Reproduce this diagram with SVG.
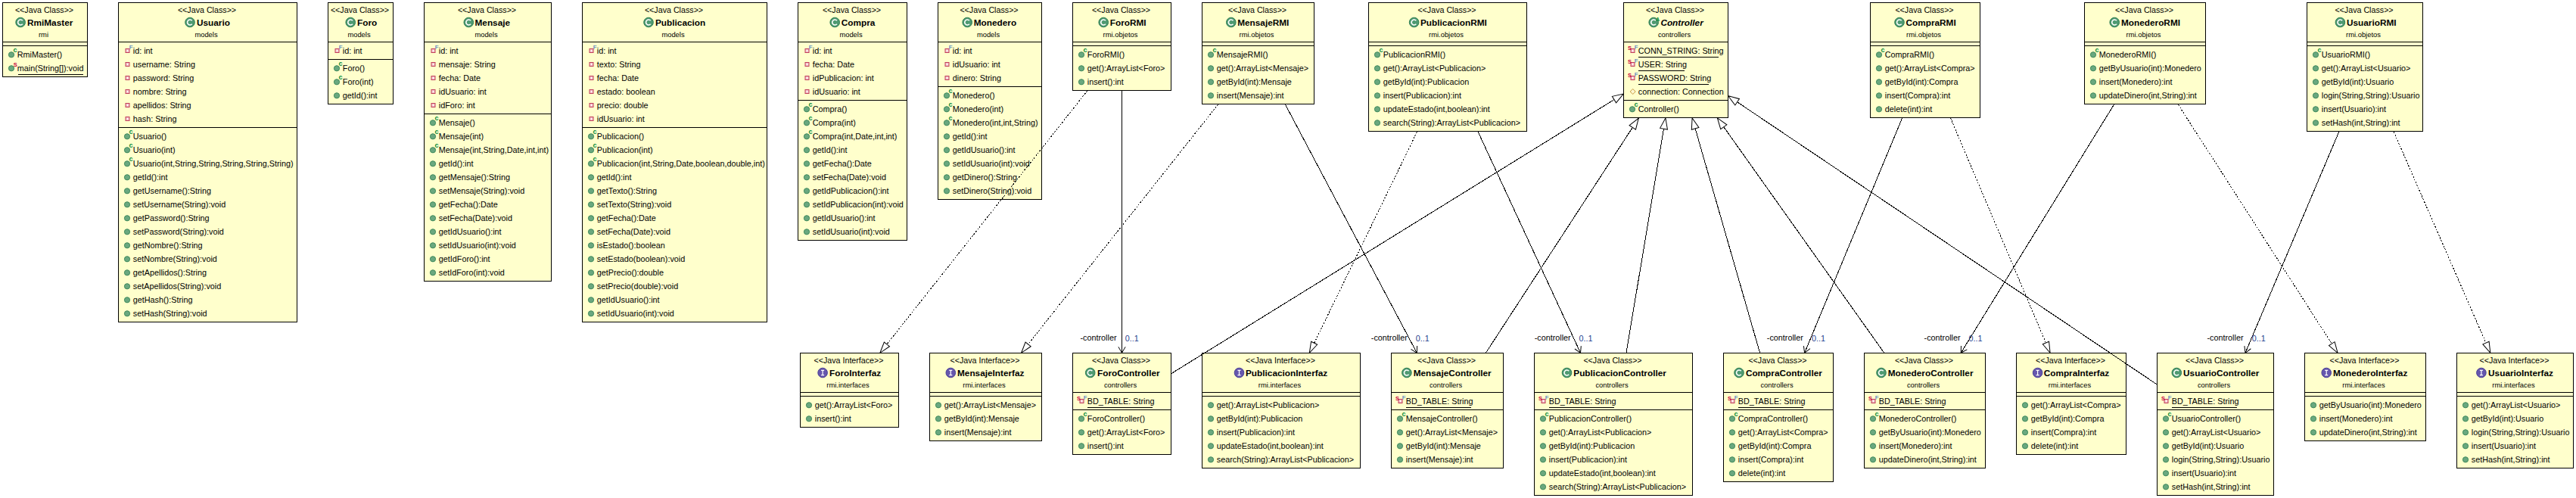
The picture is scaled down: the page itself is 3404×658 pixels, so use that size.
<svg xmlns="http://www.w3.org/2000/svg" width="3404" height="658" viewBox="0 0 3404 658">
<style>
text{font-family:"Liberation Sans",Arial,sans-serif;fill:#000}
.b{fill:#ffffcc;stroke:#000;stroke-width:1}
.s{stroke:#000;stroke-width:1;fill:none;shape-rendering:crispEdges}
.st{font-size:10.7px;text-anchor:middle}
.n{font-size:11.8px;font-weight:bold}
.i{font-style:italic}
.p{font-size:9.4px;text-anchor:middle}
.t{font-size:10.8px}
.cn{stroke:#000;stroke-width:1;fill:none;shape-rendering:crispEdges}
.d{stroke-dasharray:2 2}
.lb{font-size:10.8px}
.mu{font-size:10.8px;fill:#1f3f8f}
.mc{font-size:9px;font-weight:bold;fill:#0a8a3c}
.ms{font-size:7.5px;font-weight:bold;fill:#c8003c}
.mf{font-size:8px;fill:#2a5cc0}
.mh{fill:#fff;stroke:#000;stroke-width:1}
.mo{fill:none;stroke:#000;stroke-width:1}
</style>
<defs>
<marker id="tri" markerUnits="userSpaceOnUse" markerWidth="16" markerHeight="12" refX="15.5" refY="6" orient="auto"><path class="mh" d="M1,1 L15.5,6 L1,11 Z"/></marker>
<marker id="tri2" markerUnits="userSpaceOnUse" markerWidth="16" markerHeight="12" refX="15.5" refY="6" orient="auto"><path class="mh" d="M1,1.5 L15.5,6 L1,10.5 Z"/></marker>
<marker id="opn" markerUnits="userSpaceOnUse" markerWidth="10" markerHeight="12" refX="9" refY="6" orient="auto"><path class="mo" d="M1,1.4 L9,6 L1,10.6"/></marker>
<g id="ci"><circle r="6.3" fill="#4f9a72" stroke="#2e7d52"/><path d="M2.7,-2.3A3.5,3.5 0 1 0 2.7,2.3" fill="none" stroke="#fff" stroke-width="1.6"/></g>
<g id="ii"><circle r="6.3" fill="#6657ad" stroke="#4a3f96"/><path d="M-2,-3.2H2M0,-3.2V3.2M-2,3.2H2" fill="none" stroke="#fff" stroke-width="1.2"/></g>
<g id="m"><circle cx="11.5" r="3.6" fill="#6aa87f" stroke="#3f8a5c"/></g>
<g id="mk"><use href="#m"/><text class="mc" x="14" y="-3">c</text></g>
<g id="mt"><use href="#m"/><text class="ms" x="14.2" y="-2">S</text></g>
<g id="a"><rect x="9.5" y="-2.5" width="5" height="5" fill="#f4c0c8" stroke="#c0405a"/><circle cx="12" r="0.9" fill="#fff"/></g>
<g id="af"><use href="#a"/><text class="mf" x="14.3" y="-2">F</text></g>
<g id="asf"><use href="#a"/><text class="ms" x="5.5" y="-1.5">S</text><text class="mf" x="14.3" y="-2">F</text></g>
<path id="dm" d="M12.2,-3.5L15.7,0L12.2,3.5L8.7,0Z" fill="#fff8d0" stroke="#c89a40"/>
</defs>
<g id="nodes">
<g id="RmiMaster" transform="translate(3.5,3.5)"><rect class="b" width="112" height="98"/><path class="s" d="M0,52H112M0,57H112"/>
<text class="st" x="55" y="13.7">&lt;&lt;Java Class&gt;&gt;</text><use href="#ci" x="23.6" y="26"/><text class="n" x="32.5" y="30.4">RmiMaster</text><text class="p" x="54" y="45.8">rmi</text>
<use href="#mk" y="68.8"/><text class="t" x="19.3" y="72.6">RmiMaster()</text>
<use href="#mt" y="86.8"/><text class="t" x="19.3" y="90.6">main(String[]):void</text><path class="s" d="M20,95H106"/></g>

<g id="Usuario" transform="translate(156.5,3.5)"><rect class="b" width="236" height="422"/><path class="s" d="M0,52H236M0,165H236"/>
<text class="st" x="117" y="13.7">&lt;&lt;Java Class&gt;&gt;</text><use href="#ci" x="94.5" y="26"/><text class="n" x="103.5" y="30.4">Usuario</text><text class="p" x="116" y="45.8">models</text>
<use href="#af" y="63.5"/><text class="t" x="19.3" y="67.3">id: int</text>
<use href="#a" y="81.5"/><text class="t" x="19.3" y="85.3">username: String</text>
<use href="#a" y="99.5"/><text class="t" x="19.3" y="103.3">password: String</text>
<use href="#a" y="117.5"/><text class="t" x="19.3" y="121.3">nombre: String</text>
<use href="#a" y="135.5"/><text class="t" x="19.3" y="139.3">apellidos: String</text>
<use href="#a" y="153.5"/><text class="t" x="19.3" y="157.3">hash: String</text>
<use href="#mk" y="176.8"/><text class="t" x="19.3" y="180.6">Usuario()</text>
<use href="#mk" y="194.8"/><text class="t" x="19.3" y="198.6">Usuario(int)</text>
<use href="#mk" y="212.8"/><text class="t" x="19.3" y="216.6">Usuario(int,String,String,String,String,String)</text>
<use href="#m" y="230.8"/><text class="t" x="19.3" y="234.6">getId():int</text>
<use href="#m" y="248.8"/><text class="t" x="19.3" y="252.6">getUsername():String</text>
<use href="#m" y="266.8"/><text class="t" x="19.3" y="270.6">setUsername(String):void</text>
<use href="#m" y="284.8"/><text class="t" x="19.3" y="288.6">getPassword():String</text>
<use href="#m" y="302.8"/><text class="t" x="19.3" y="306.6">setPassword(String):void</text>
<use href="#m" y="320.8"/><text class="t" x="19.3" y="324.6">getNombre():String</text>
<use href="#m" y="338.8"/><text class="t" x="19.3" y="342.6">setNombre(String):void</text>
<use href="#m" y="356.8"/><text class="t" x="19.3" y="360.6">getApellidos():String</text>
<use href="#m" y="374.8"/><text class="t" x="19.3" y="378.6">setApellidos(String):void</text>
<use href="#m" y="392.8"/><text class="t" x="19.3" y="396.6">getHash():String</text>
<use href="#m" y="410.8"/><text class="t" x="19.3" y="414.6">setHash(String):void</text></g>

<g id="Foro" transform="translate(433.5,3.5)"><rect class="b" width="86" height="134"/><path class="s" d="M0,52H86M0,75H86"/>
<text class="st" x="42" y="13.7">&lt;&lt;Java Class&gt;&gt;</text><use href="#ci" x="29.7" y="26"/><text class="n" x="38.5" y="30.4">Foro</text><text class="p" x="41" y="45.8">models</text>
<use href="#af" y="63.5"/><text class="t" x="19.3" y="67.3">id: int</text>
<use href="#mk" y="86.8"/><text class="t" x="19.3" y="90.6">Foro()</text>
<use href="#mk" y="104.8"/><text class="t" x="19.3" y="108.6">Foro(int)</text>
<use href="#m" y="122.8"/><text class="t" x="19.3" y="126.6">getId():int</text></g>

<g id="Mensaje" transform="translate(560.5,3.5)"><rect class="b" width="168" height="368"/><path class="s" d="M0,52H168M0,147H168"/>
<text class="st" x="83" y="13.7">&lt;&lt;Java Class&gt;&gt;</text><use href="#ci" x="58.8" y="26"/><text class="n" x="67" y="30.4">Mensaje</text><text class="p" x="82" y="45.8">models</text>
<use href="#af" y="63.5"/><text class="t" x="19.3" y="67.3">id: int</text>
<use href="#a" y="81.5"/><text class="t" x="19.3" y="85.3">mensaje: String</text>
<use href="#a" y="99.5"/><text class="t" x="19.3" y="103.3">fecha: Date</text>
<use href="#a" y="117.5"/><text class="t" x="19.3" y="121.3">idUsuario: int</text>
<use href="#a" y="135.5"/><text class="t" x="19.3" y="139.3">idForo: int</text>
<use href="#mk" y="158.8"/><text class="t" x="19.3" y="162.6">Mensaje()</text>
<use href="#mk" y="176.8"/><text class="t" x="19.3" y="180.6">Mensaje(int)</text>
<use href="#mk" y="194.8"/><text class="t" x="19.3" y="198.6">Mensaje(int,String,Date,int,int)</text>
<use href="#m" y="212.8"/><text class="t" x="19.3" y="216.6">getId():int</text>
<use href="#m" y="230.8"/><text class="t" x="19.3" y="234.6">getMensaje():String</text>
<use href="#m" y="248.8"/><text class="t" x="19.3" y="252.6">setMensaje(String):void</text>
<use href="#m" y="266.8"/><text class="t" x="19.3" y="270.6">getFecha():Date</text>
<use href="#m" y="284.8"/><text class="t" x="19.3" y="288.6">setFecha(Date):void</text>
<use href="#m" y="302.8"/><text class="t" x="19.3" y="306.6">getIdUsuario():int</text>
<use href="#m" y="320.8"/><text class="t" x="19.3" y="324.6">setIdUsuario(int):void</text>
<use href="#m" y="338.8"/><text class="t" x="19.3" y="342.6">getIdForo():int</text>
<use href="#m" y="356.8"/><text class="t" x="19.3" y="360.6">setIdForo(int):void</text></g>

<g id="Publicacion" transform="translate(769.5,3.5)"><rect class="b" width="244" height="422"/><path class="s" d="M0,52H244M0,165H244"/>
<text class="st" x="121" y="13.7">&lt;&lt;Java Class&gt;&gt;</text><use href="#ci" x="87.5" y="26"/><text class="n" x="96.5" y="30.4">Publicacion</text><text class="p" x="120" y="45.8">models</text>
<use href="#af" y="63.5"/><text class="t" x="19.3" y="67.3">id: int</text>
<use href="#a" y="81.5"/><text class="t" x="19.3" y="85.3">texto: String</text>
<use href="#a" y="99.5"/><text class="t" x="19.3" y="103.3">fecha: Date</text>
<use href="#a" y="117.5"/><text class="t" x="19.3" y="121.3">estado: boolean</text>
<use href="#a" y="135.5"/><text class="t" x="19.3" y="139.3">precio: double</text>
<use href="#a" y="153.5"/><text class="t" x="19.3" y="157.3">idUsuario: int</text>
<use href="#mk" y="176.8"/><text class="t" x="19.3" y="180.6">Publicacion()</text>
<use href="#mk" y="194.8"/><text class="t" x="19.3" y="198.6">Publicacion(int)</text>
<use href="#mk" y="212.8"/><text class="t" x="19.3" y="216.6">Publicacion(int,String,Date,boolean,double,int)</text>
<use href="#m" y="230.8"/><text class="t" x="19.3" y="234.6">getId():int</text>
<use href="#m" y="248.8"/><text class="t" x="19.3" y="252.6">getTexto():String</text>
<use href="#m" y="266.8"/><text class="t" x="19.3" y="270.6">setTexto(String):void</text>
<use href="#m" y="284.8"/><text class="t" x="19.3" y="288.6">getFecha():Date</text>
<use href="#m" y="302.8"/><text class="t" x="19.3" y="306.6">setFecha(Date):void</text>
<use href="#m" y="320.8"/><text class="t" x="19.3" y="324.6">isEstado():boolean</text>
<use href="#m" y="338.8"/><text class="t" x="19.3" y="342.6">setEstado(boolean):void</text>
<use href="#m" y="356.8"/><text class="t" x="19.3" y="360.6">getPrecio():double</text>
<use href="#m" y="374.8"/><text class="t" x="19.3" y="378.6">setPrecio(double):void</text>
<use href="#m" y="392.8"/><text class="t" x="19.3" y="396.6">getIdUsuario():int</text>
<use href="#m" y="410.8"/><text class="t" x="19.3" y="414.6">setIdUsuario(int):void</text></g>

<g id="Compra" transform="translate(1054.5,3.5)"><rect class="b" width="144" height="314"/><path class="s" d="M0,52H144M0,129H144"/>
<text class="st" x="71" y="13.7">&lt;&lt;Java Class&gt;&gt;</text><use href="#ci" x="48.7" y="26"/><text class="n" x="57.3" y="30.4">Compra</text><text class="p" x="70" y="45.8">models</text>
<use href="#af" y="63.5"/><text class="t" x="19.3" y="67.3">id: int</text>
<use href="#a" y="81.5"/><text class="t" x="19.3" y="85.3">fecha: Date</text>
<use href="#a" y="99.5"/><text class="t" x="19.3" y="103.3">idPublicacion: int</text>
<use href="#a" y="117.5"/><text class="t" x="19.3" y="121.3">idUsuario: int</text>
<use href="#mk" y="140.8"/><text class="t" x="19.3" y="144.6">Compra()</text>
<use href="#mk" y="158.8"/><text class="t" x="19.3" y="162.6">Compra(int)</text>
<use href="#mk" y="176.8"/><text class="t" x="19.3" y="180.6">Compra(int,Date,int,int)</text>
<use href="#m" y="194.8"/><text class="t" x="19.3" y="198.6">getId():int</text>
<use href="#m" y="212.8"/><text class="t" x="19.3" y="216.6">getFecha():Date</text>
<use href="#m" y="230.8"/><text class="t" x="19.3" y="234.6">setFecha(Date):void</text>
<use href="#m" y="248.8"/><text class="t" x="19.3" y="252.6">getIdPublicacion():int</text>
<use href="#m" y="266.8"/><text class="t" x="19.3" y="270.6">setIdPublicacion(int):void</text>
<use href="#m" y="284.8"/><text class="t" x="19.3" y="288.6">getIdUsuario():int</text>
<use href="#m" y="302.8"/><text class="t" x="19.3" y="306.6">setIdUsuario(int):void</text></g>

<g id="Monedero" transform="translate(1239.5,3.5)"><rect class="b" width="137" height="260"/><path class="s" d="M0,52H137M0,111H137"/>
<text class="st" x="67.5" y="13.7">&lt;&lt;Java Class&gt;&gt;</text><use href="#ci" x="38.7" y="26"/><text class="n" x="47.3" y="30.4">Monedero</text><text class="p" x="66.5" y="45.8">models</text>
<use href="#af" y="63.5"/><text class="t" x="19.3" y="67.3">id: int</text>
<use href="#a" y="81.5"/><text class="t" x="19.3" y="85.3">idUsuario: int</text>
<use href="#a" y="99.5"/><text class="t" x="19.3" y="103.3">dinero: String</text>
<use href="#mk" y="122.8"/><text class="t" x="19.3" y="126.6">Monedero()</text>
<use href="#mk" y="140.8"/><text class="t" x="19.3" y="144.6">Monedero(int)</text>
<use href="#mk" y="158.8"/><text class="t" x="19.3" y="162.6">Monedero(int,int,String)</text>
<use href="#m" y="176.8"/><text class="t" x="19.3" y="180.6">getId():int</text>
<use href="#m" y="194.8"/><text class="t" x="19.3" y="198.6">getIdUsuario():int</text>
<use href="#m" y="212.8"/><text class="t" x="19.3" y="216.6">setIdUsuario(int):void</text>
<use href="#m" y="230.8"/><text class="t" x="19.3" y="234.6">getDinero():String</text>
<use href="#m" y="248.8"/><text class="t" x="19.3" y="252.6">setDinero(String):void</text></g>

<g id="ForoRMI" transform="translate(1417.5,3.5)"><rect class="b" width="130" height="116"/><path class="s" d="M0,52H130M0,57H130"/>
<text class="st" x="64" y="13.7">&lt;&lt;Java Class&gt;&gt;</text><use href="#ci" x="40.7" y="26"/><text class="n" x="49.3" y="30.4">ForoRMI</text><text class="p" x="63" y="45.8">rmi.objetos</text>
<use href="#mk" y="68.8"/><text class="t" x="19.3" y="72.6">ForoRMI()</text>
<use href="#m" y="86.8"/><text class="t" x="19.3" y="90.6">get():ArrayList&lt;Foro&gt;</text>
<use href="#m" y="104.8"/><text class="t" x="19.3" y="108.6">insert():int</text></g>

<g id="MensajeRMI" transform="translate(1588.5,3.5)"><rect class="b" width="148" height="134"/><path class="s" d="M0,52H148M0,57H148"/>
<text class="st" x="73" y="13.7">&lt;&lt;Java Class&gt;&gt;</text><use href="#ci" x="38.3" y="26"/><text class="n" x="46.7" y="30.4">MensajeRMI</text><text class="p" x="72" y="45.8">rmi.objetos</text>
<use href="#mk" y="68.8"/><text class="t" x="19.3" y="72.6">MensajeRMI()</text>
<use href="#m" y="86.8"/><text class="t" x="19.3" y="90.6">get():ArrayList&lt;Mensaje&gt;</text>
<use href="#m" y="104.8"/><text class="t" x="19.3" y="108.6">getById(int):Mensaje</text>
<use href="#m" y="122.8"/><text class="t" x="19.3" y="126.6">insert(Mensaje):int</text></g>

<g id="PublicacionRMI" transform="translate(1808.5,3.5)"><rect class="b" width="209" height="170"/><path class="s" d="M0,52H209M0,57H209"/>
<text class="st" x="103.5" y="13.7">&lt;&lt;Java Class&gt;&gt;</text><use href="#ci" x="60.1" y="26"/><text class="n" x="68.5" y="30.4">PublicacionRMI</text><text class="p" x="102.5" y="45.8">rmi.objetos</text>
<use href="#mk" y="68.8"/><text class="t" x="19.3" y="72.6">PublicacionRMI()</text>
<use href="#m" y="86.8"/><text class="t" x="19.3" y="90.6">get():ArrayList&lt;Publicacion&gt;</text>
<use href="#m" y="104.8"/><text class="t" x="19.3" y="108.6">getById(int):Publicacion</text>
<use href="#m" y="122.8"/><text class="t" x="19.3" y="126.6">insert(Publicacion):int</text>
<use href="#m" y="140.8"/><text class="t" x="19.3" y="144.6">updateEstado(int,boolean):int</text>
<use href="#m" y="158.8"/><text class="t" x="19.3" y="162.6">search(String):ArrayList&lt;Publicacion&gt;</text></g>

<g id="Controller" transform="translate(2145.5,3.5)"><rect class="b" width="138" height="152"/><path class="s" d="M0,52H138M0,129H138"/>
<text class="st" x="68" y="13.7">&lt;&lt;Java Class&gt;&gt;</text><use href="#ci" x="39.7" y="26"/><text class="mf" x="42.5" y="24" style="font-size:7px;fill:#0a8a3c;font-weight:bold">A</text><text class="n i" x="48.9" y="30.4">Controller</text><text class="p" x="67" y="45.8">controllers</text>
<use href="#asf" y="63.5"/><text class="t" x="19.3" y="67.3">CONN_STRING: String</text><path class="s" d="M19,72H125"/>
<use href="#asf" y="81.5"/><text class="t" x="19.3" y="85.3">USER: String</text><path class="s" d="M19,90H80"/>
<use href="#asf" y="99.5"/><text class="t" x="19.3" y="103.3">PASSWORD: String</text><path class="s" d="M19,108H112"/>
<use href="#dm" y="117.5"/><text class="t" x="19.3" y="121.3">connection: Connection</text>
<use href="#mk" y="140.8"/><text class="t" x="19.3" y="144.6">Controller()</text></g>

<g id="CompraRMI" transform="translate(2471.5,3.5)"><rect class="b" width="145" height="152"/><path class="s" d="M0,52H145M0,57H145"/>
<text class="st" x="71.5" y="13.7">&lt;&lt;Java Class&gt;&gt;</text><use href="#ci" x="38.5" y="26"/><text class="n" x="47" y="30.4">CompraRMI</text><text class="p" x="70.5" y="45.8">rmi.objetos</text>
<use href="#mk" y="68.8"/><text class="t" x="19.3" y="72.6">CompraRMI()</text>
<use href="#m" y="86.8"/><text class="t" x="19.3" y="90.6">get():ArrayList&lt;Compra&gt;</text>
<use href="#m" y="104.8"/><text class="t" x="19.3" y="108.6">getById(int):Compra</text>
<use href="#m" y="122.8"/><text class="t" x="19.3" y="126.6">insert(Compra):int</text>
<use href="#m" y="140.8"/><text class="t" x="19.3" y="144.6">delete(int):int</text></g>

<g id="MonederoRMI" transform="translate(2754.5,3.5)"><rect class="b" width="160" height="134"/><path class="s" d="M0,52H160M0,57H160"/>
<text class="st" x="79" y="13.7">&lt;&lt;Java Class&gt;&gt;</text><use href="#ci" x="39.7" y="26"/><text class="n" x="48.5" y="30.4">MonederoRMI</text><text class="p" x="78" y="45.8">rmi.objetos</text>
<use href="#mk" y="68.8"/><text class="t" x="19.3" y="72.6">MonederoRMI()</text>
<use href="#m" y="86.8"/><text class="t" x="19.3" y="90.6">getByUsuario(int):Monedero</text>
<use href="#m" y="104.8"/><text class="t" x="19.3" y="108.6">insert(Monedero):int</text>
<use href="#m" y="122.8"/><text class="t" x="19.3" y="126.6">updateDinero(int,String):int</text></g>

<g id="UsuarioRMI" transform="translate(3048.5,3.5)"><rect class="b" width="153" height="170"/><path class="s" d="M0,52H153M0,57H153"/>
<text class="st" x="75.5" y="13.7">&lt;&lt;Java Class&gt;&gt;</text><use href="#ci" x="43.9" y="26"/><text class="n" x="52.5" y="30.4">UsuarioRMI</text><text class="p" x="74.5" y="45.8">rmi.objetos</text>
<use href="#mk" y="68.8"/><text class="t" x="19.3" y="72.6">UsuarioRMI()</text>
<use href="#m" y="86.8"/><text class="t" x="19.3" y="90.6">get():ArrayList&lt;Usuario&gt;</text>
<use href="#m" y="104.8"/><text class="t" x="19.3" y="108.6">getById(int):Usuario</text>
<use href="#m" y="122.8"/><text class="t" x="19.3" y="126.6">login(String,String):Usuario</text>
<use href="#m" y="140.8"/><text class="t" x="19.3" y="144.6">insert(Usuario):int</text>
<use href="#m" y="158.8"/><text class="t" x="19.3" y="162.6">setHash(int,String):int</text></g>

<g id="ForoInterfaz" transform="translate(1057.5,466.5)"><rect class="b" width="130" height="98"/><path class="s" d="M0,52H130M0,57H130"/>
<text class="st" x="64" y="13.7">&lt;&lt;Java Interface&gt;&gt;</text><use href="#ii" x="29.6" y="26"/><text class="n" x="38.5" y="30.4">ForoInterfaz</text><text class="p" x="63" y="45.8">rmi.interfaces</text>
<use href="#m" y="68.8"/><text class="t" x="19.3" y="72.6">get():ArrayList&lt;Foro&gt;</text>
<use href="#m" y="86.8"/><text class="t" x="19.3" y="90.6">insert():int</text></g>

<g id="MensajeInterfaz" transform="translate(1228.5,466.5)"><rect class="b" width="148" height="116"/><path class="s" d="M0,52H148M0,57H148"/>
<text class="st" x="73" y="13.7">&lt;&lt;Java Interface&gt;&gt;</text><use href="#ii" x="27.8" y="26"/><text class="n" x="36.5" y="30.4">MensajeInterfaz</text><text class="p" x="72" y="45.8">rmi.interfaces</text>
<use href="#m" y="68.8"/><text class="t" x="19.3" y="72.6">get():ArrayList&lt;Mensaje&gt;</text>
<use href="#m" y="86.8"/><text class="t" x="19.3" y="90.6">getById(int):Mensaje</text>
<use href="#m" y="104.8"/><text class="t" x="19.3" y="108.6">insert(Mensaje):int</text></g>

<g id="ForoController" transform="translate(1417.5,466.5)"><rect class="b" width="130" height="134"/><path class="s" d="M0,52H130M0,75H130"/>
<text class="st" x="64" y="13.7">&lt;&lt;Java Class&gt;&gt;</text><use href="#ci" x="23.2" y="26"/><text class="n" x="32.5" y="30.4">ForoController</text><text class="p" x="63" y="45.8">controllers</text>
<use href="#asf" y="63.5"/><text class="t" x="19.3" y="67.3">BD_TABLE: String</text><path class="s" d="M19,72H105"/>
<use href="#mk" y="86.8"/><text class="t" x="19.3" y="90.6">ForoController()</text>
<use href="#m" y="104.8"/><text class="t" x="19.3" y="108.6">get():ArrayList&lt;Foro&gt;</text>
<use href="#m" y="122.8"/><text class="t" x="19.3" y="126.6">insert():int</text></g>

<g id="PublicacionInterfaz" transform="translate(1588.5,466.5)"><rect class="b" width="209" height="152"/><path class="s" d="M0,52H209M0,57H209"/>
<text class="st" x="103.5" y="13.7">&lt;&lt;Java Interface&gt;&gt;</text><use href="#ii" x="49" y="26"/><text class="n" x="57.5" y="30.4">PublicacionInterfaz</text><text class="p" x="102.5" y="45.8">rmi.interfaces</text>
<use href="#m" y="68.8"/><text class="t" x="19.3" y="72.6">get():ArrayList&lt;Publicacion&gt;</text>
<use href="#m" y="86.8"/><text class="t" x="19.3" y="90.6">getById(int):Publicacion</text>
<use href="#m" y="104.8"/><text class="t" x="19.3" y="108.6">insert(Publicacion):int</text>
<use href="#m" y="122.8"/><text class="t" x="19.3" y="126.6">updateEstado(int,boolean):int</text>
<use href="#m" y="140.8"/><text class="t" x="19.3" y="144.6">search(String):ArrayList&lt;Publicacion&gt;</text></g>

<g id="MensajeController" transform="translate(1838.5,466.5)"><rect class="b" width="148" height="152"/><path class="s" d="M0,52H148M0,75H148"/>
<text class="st" x="73" y="13.7">&lt;&lt;Java Class&gt;&gt;</text><use href="#ci" x="20.4" y="26"/><text class="n" x="29.2" y="30.4">MensajeController</text><text class="p" x="72" y="45.8">controllers</text>
<use href="#asf" y="63.5"/><text class="t" x="19.3" y="67.3">BD_TABLE: String</text><path class="s" d="M19,72H105"/>
<use href="#mk" y="86.8"/><text class="t" x="19.3" y="90.6">MensajeController()</text>
<use href="#m" y="104.8"/><text class="t" x="19.3" y="108.6">get():ArrayList&lt;Mensaje&gt;</text>
<use href="#m" y="122.8"/><text class="t" x="19.3" y="126.6">getById(int):Mensaje</text>
<use href="#m" y="140.8"/><text class="t" x="19.3" y="144.6">insert(Mensaje):int</text></g>

<g id="PublicacionController" transform="translate(2027.5,466.5)"><rect class="b" width="209" height="188"/><path class="s" d="M0,52H209M0,75H209"/>
<text class="st" x="103.5" y="13.7">&lt;&lt;Java Class&gt;&gt;</text><use href="#ci" x="43" y="26"/><text class="n" x="51.8" y="30.4">PublicacionController</text><text class="p" x="102.5" y="45.8">controllers</text>
<use href="#asf" y="63.5"/><text class="t" x="19.3" y="67.3">BD_TABLE: String</text><path class="s" d="M19,72H105"/>
<use href="#mk" y="86.8"/><text class="t" x="19.3" y="90.6">PublicacionController()</text>
<use href="#m" y="104.8"/><text class="t" x="19.3" y="108.6">get():ArrayList&lt;Publicacion&gt;</text>
<use href="#m" y="122.8"/><text class="t" x="19.3" y="126.6">getById(int):Publicacion</text>
<use href="#m" y="140.8"/><text class="t" x="19.3" y="144.6">insert(Publicacion):int</text>
<use href="#m" y="158.8"/><text class="t" x="19.3" y="162.6">updateEstado(int,boolean):int</text>
<use href="#m" y="176.8"/><text class="t" x="19.3" y="180.6">search(String):ArrayList&lt;Publicacion&gt;</text></g>

<g id="CompraController" transform="translate(2277.5,466.5)"><rect class="b" width="145" height="170"/><path class="s" d="M0,52H145M0,75H145"/>
<text class="st" x="71.5" y="13.7">&lt;&lt;Java Class&gt;&gt;</text><use href="#ci" x="20.5" y="26"/><text class="n" x="29.4" y="30.4">CompraController</text><text class="p" x="70.5" y="45.8">controllers</text>
<use href="#asf" y="63.5"/><text class="t" x="19.3" y="67.3">BD_TABLE: String</text><path class="s" d="M19,72H105"/>
<use href="#mk" y="86.8"/><text class="t" x="19.3" y="90.6">CompraController()</text>
<use href="#m" y="104.8"/><text class="t" x="19.3" y="108.6">get():ArrayList&lt;Compra&gt;</text>
<use href="#m" y="122.8"/><text class="t" x="19.3" y="126.6">getById(int):Compra</text>
<use href="#m" y="140.8"/><text class="t" x="19.3" y="144.6">insert(Compra):int</text>
<use href="#m" y="158.8"/><text class="t" x="19.3" y="162.6">delete(int):int</text></g>

<g id="MonederoController" transform="translate(2463.5,466.5)"><rect class="b" width="160" height="152"/><path class="s" d="M0,52H160M0,75H160"/>
<text class="st" x="79" y="13.7">&lt;&lt;Java Class&gt;&gt;</text><use href="#ci" x="22.5" y="26"/><text class="n" x="31.3" y="30.4">MonederoController</text><text class="p" x="78" y="45.8">controllers</text>
<use href="#asf" y="63.5"/><text class="t" x="19.3" y="67.3">BD_TABLE: String</text><path class="s" d="M19,72H105"/>
<use href="#mk" y="86.8"/><text class="t" x="19.3" y="90.6">MonederoController()</text>
<use href="#m" y="104.8"/><text class="t" x="19.3" y="108.6">getByUsuario(int):Monedero</text>
<use href="#m" y="122.8"/><text class="t" x="19.3" y="126.6">insert(Monedero):int</text>
<use href="#m" y="140.8"/><text class="t" x="19.3" y="144.6">updateDinero(int,String):int</text></g>

<g id="CompraInterfaz" transform="translate(2664.5,466.5)"><rect class="b" width="145" height="134"/><path class="s" d="M0,52H145M0,57H145"/>
<text class="st" x="71.5" y="13.7">&lt;&lt;Java Interface&gt;&gt;</text><use href="#ii" x="28.1" y="26"/><text class="n" x="36.2" y="30.4">CompraInterfaz</text><text class="p" x="70.5" y="45.8">rmi.interfaces</text>
<use href="#m" y="68.8"/><text class="t" x="19.3" y="72.6">get():ArrayList&lt;Compra&gt;</text>
<use href="#m" y="86.8"/><text class="t" x="19.3" y="90.6">getById(int):Compra</text>
<use href="#m" y="104.8"/><text class="t" x="19.3" y="108.6">insert(Compra):int</text>
<use href="#m" y="122.8"/><text class="t" x="19.3" y="126.6">delete(int):int</text></g>

<g id="UsuarioController" transform="translate(2850.5,466.5)"><rect class="b" width="154" height="188"/><path class="s" d="M0,52H154M0,75H154"/>
<text class="st" x="76" y="13.7">&lt;&lt;Java Class&gt;&gt;</text><use href="#ci" x="25.8" y="26"/><text class="n" x="34.6" y="30.4">UsuarioController</text><text class="p" x="75" y="45.8">controllers</text>
<use href="#asf" y="63.5"/><text class="t" x="19.3" y="67.3">BD_TABLE: String</text><path class="s" d="M19,72H105"/>
<use href="#mk" y="86.8"/><text class="t" x="19.3" y="90.6">UsuarioController()</text>
<use href="#m" y="104.8"/><text class="t" x="19.3" y="108.6">get():ArrayList&lt;Usuario&gt;</text>
<use href="#m" y="122.8"/><text class="t" x="19.3" y="126.6">getById(int):Usuario</text>
<use href="#m" y="140.8"/><text class="t" x="19.3" y="144.6">login(String,String):Usuario</text>
<use href="#m" y="158.8"/><text class="t" x="19.3" y="162.6">insert(Usuario):int</text>
<use href="#m" y="176.8"/><text class="t" x="19.3" y="180.6">setHash(int,String):int</text></g>

<g id="MonederoInterfaz" transform="translate(3045.5,466.5)"><rect class="b" width="160" height="116"/><path class="s" d="M0,52H160M0,57H160"/>
<text class="st" x="79" y="13.7">&lt;&lt;Java Interface&gt;&gt;</text><use href="#ii" x="28.7" y="26"/><text class="n" x="37.5" y="30.4">MonederoInterfaz</text><text class="p" x="78" y="45.8">rmi.interfaces</text>
<use href="#m" y="68.8"/><text class="t" x="19.3" y="72.6">getByUsuario(int):Monedero</text>
<use href="#m" y="86.8"/><text class="t" x="19.3" y="90.6">insert(Monedero):int</text>
<use href="#m" y="104.8"/><text class="t" x="19.3" y="108.6">updateDinero(int,String):int</text></g>

<g id="UsuarioInterfaz" transform="translate(3246.5,466.5)"><rect class="b" width="154" height="152"/><path class="s" d="M0,52H154M0,57H154"/>
<text class="st" x="76" y="13.7">&lt;&lt;Java Interface&gt;&gt;</text><use href="#ii" x="32.4" y="26"/><text class="n" x="41.6" y="30.4">UsuarioInterfaz</text><text class="p" x="75" y="45.8">rmi.interfaces</text>
<use href="#m" y="68.8"/><text class="t" x="19.3" y="72.6">get():ArrayList&lt;Usuario&gt;</text>
<use href="#m" y="86.8"/><text class="t" x="19.3" y="90.6">getById(int):Usuario</text>
<use href="#m" y="104.8"/><text class="t" x="19.3" y="108.6">login(String,String):Usuario</text>
<use href="#m" y="122.8"/><text class="t" x="19.3" y="126.6">insert(Usuario):int</text>
<use href="#m" y="140.8"/><text class="t" x="19.3" y="144.6">setHash(int,String):int</text></g>
</g>
<g id="connectors">
<line class="cn d" x1="1436.8" y1="120" x2="1162.9" y2="466.3" marker-end="url(#tri2)"/>
<line class="cn d" x1="1609.6" y1="138" x2="1349.6" y2="466.3" marker-end="url(#tri2)"/>
<line class="cn d" x1="1872.5" y1="174.3" x2="1730.3" y2="466.3" marker-end="url(#tri2)"/>
<line class="cn d" x1="2577.5" y1="156" x2="2709.1" y2="466.3" marker-end="url(#tri2)"/>
<line class="cn d" x1="2878.4" y1="138.3" x2="3089.1" y2="466.3" marker-end="url(#tri2)"/>
<line class="cn d" x1="3163.3" y1="174.3" x2="3290.8" y2="466.3" marker-end="url(#tri2)"/>
<line class="cn" x1="1482.5" y1="119.5" x2="1482.5" y2="466.3" marker-end="url(#opn)"/>
<line class="cn" x1="1698.4" y1="138" x2="1872.3" y2="466.3" marker-end="url(#opn)"/>
<line class="cn" x1="1953.2" y1="174.3" x2="2088.5" y2="466.3" marker-end="url(#opn)"/>
<line class="cn" x1="2513.6" y1="156" x2="2384.6" y2="466.3" marker-end="url(#opn)"/>
<line class="cn" x1="2793.4" y1="138.3" x2="2591.2" y2="466.3" marker-end="url(#opn)"/>
<line class="cn" x1="3090.7" y1="174.3" x2="2967" y2="466.3" marker-end="url(#opn)"/>
<line class="cn" x1="1548.3" y1="493.3" x2="2145.3" y2="124" marker-end="url(#tri)"/>
<line class="cn" x1="1963.4" y1="466.3" x2="2165.2" y2="156.3" marker-end="url(#tri)"/>
<line class="cn" x1="2149" y1="466.3" x2="2200.9" y2="155.9" marker-end="url(#tri)"/>
<line class="cn" x1="2325.6" y1="466.3" x2="2236.1" y2="155.9" marker-end="url(#tri)"/>
<line class="cn" x1="2489.8" y1="466.3" x2="2269.4" y2="155.9" marker-end="url(#tri)"/>
<line class="cn" x1="2850.7" y1="508.3" x2="2283.6" y2="126.7" marker-end="url(#tri)"/>
<text class="lb" x="1427.5" y="450">-controller</text><text class="mu" x="1486.7" y="450.5">0..1</text>
<text class="lb" x="1811.8" y="450">-controller</text><text class="mu" x="1870.8" y="450.5">0..1</text>
<text class="lb" x="2027.7" y="450">-controller</text><text class="mu" x="2086.6" y="450.5">0..1</text>
<text class="lb" x="2334.8" y="450">-controller</text><text class="mu" x="2394.1" y="450.5">0..1</text>
<text class="lb" x="2542.6" y="450">-controller</text><text class="mu" x="2601.5" y="450.5">0..1</text>
<text class="lb" x="2916.5" y="450">-controller</text><text class="mu" x="2975.8" y="450.5">0..1</text>
</g>
</svg>
